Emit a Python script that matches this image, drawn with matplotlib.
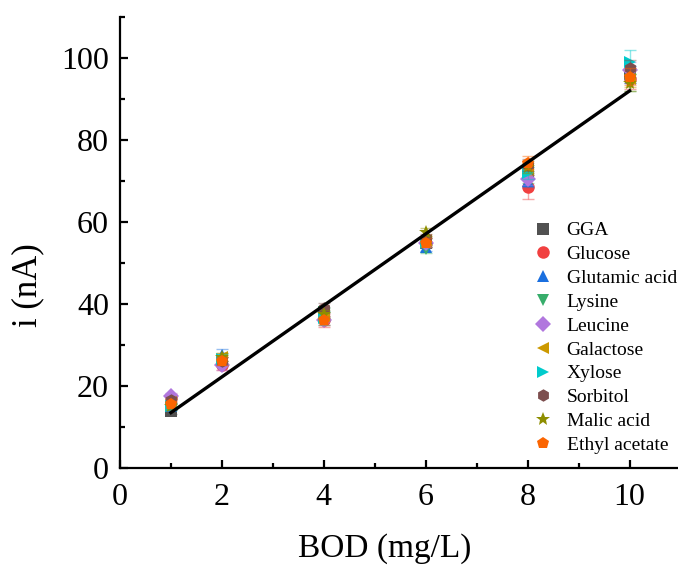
import numpy as np
import matplotlib.pyplot as plt
from matplotlib.ticker import MultipleLocator

plt.rcParams['font.family'] = ['Liberation Serif', 'DejaVu Serif']

# BOD concentrations (mg/L)
bod = [1, 2, 4, 6, 8, 10]

# current response (nA) for each substrate
names = ['GGA', 'Glucose', 'Glutamic acid', 'Lysine', 'Leucine',
         'Galactose', 'Xylose', 'Sorbitol', 'Malic acid', 'Ethyl acetate']
gga = [14.0, 26.0, 38.0, 55.0, 72.0, 96.0]
glucose = [17.0, 25.0, 36.0, 55.0, 68.5, 95.0]
glutamic = [15.0, 27.5, 37.0, 54.0, 70.0, 96.0]
lysine = [16.0, 26.0, 38.0, 53.5, 71.0, 94.0]
leucine = [17.5, 25.0, 36.0, 55.0, 70.5, 97.0]
galactose = [16.0, 27.0, 37.0, 55.5, 73.0, 95.0]
xylose = [15.0, 26.5, 36.5, 55.0, 72.0, 99.0]
sorbitol = [16.5, 26.0, 39.0, 56.0, 74.0, 97.5]
malic = [15.0, 27.0, 37.5, 57.5, 73.5, 94.0]
ethyl = [15.5, 26.0, 36.0, 55.0, 74.5, 95.5]
series = [gga, glucose, glutamic, lysine, leucine,
          galactose, xylose, sorbitol, malic, ethyl]

# error bar half-widths (nA)
err_gga = [0.8, 1.0, 1.2, 1.0, 1.5, 2.0]
err_glucose = [1.0, 1.2, 1.5, 1.2, 3.0, 2.5]
err_glutamic = [0.8, 1.5, 1.2, 1.0, 1.5, 2.0]
err_lysine = [0.8, 1.0, 1.0, 1.0, 1.5, 2.0]
err_leucine = [0.8, 1.0, 1.0, 1.0, 1.5, 2.0]
err_galactose = [0.8, 1.0, 1.0, 1.0, 1.5, 2.0]
err_xylose = [0.8, 1.2, 1.5, 1.0, 1.5, 3.0]
err_sorbitol = [0.8, 1.0, 1.2, 1.0, 1.5, 2.0]
err_malic = [0.8, 1.0, 1.0, 1.0, 1.5, 2.0]
err_ethyl = [0.8, 1.0, 1.0, 1.0, 1.5, 2.0]
errors = [err_gga, err_glucose, err_glutamic, err_lysine, err_leucine,
          err_galactose, err_xylose, err_sorbitol, err_malic, err_ethyl]

# linear fit line end points
fit_x = [1, 10]
fit_y = [13.5, 92.0]

colors = ['#515151', '#F14040', '#1A6FDF', '#37AD6B', '#B177DE',
          '#CC9900', '#00CBCC', '#7D4E4E', '#8E8E00', '#FB6501']
markers = ['s', 'o', '^', 'v', 'D', '<', '>', 'h', '*', 'p']
sizes = [8, 9, 9, 9, 8, 9, 9, 9, 10.5, 9]

fig = plt.figure(figsize=(6.78, 5.70), dpi=100)
ax = fig.add_axes([0.177, 0.179, 0.823, 0.791])

for name, y, e, c, m, s in zip(names, series, errors, colors, markers, sizes):
    ax.errorbar(bod, y, yerr=e, fmt='none', ecolor=c, alpha=0.45,
                elinewidth=1.0, capsize=4, capthick=1.0)
    ax.plot(bod, y, linestyle='none', marker=m, color=c, markersize=s,
            markeredgewidth=0, label=name)

ax.plot(fit_x, fit_y, color='black', linewidth=2.4, zorder=5)

ax.set_xlim(0, 10.95)
ax.set_ylim(0, 110)
ax.xaxis.set_major_locator(MultipleLocator(2))
ax.xaxis.set_minor_locator(MultipleLocator(1))
ax.yaxis.set_major_locator(MultipleLocator(20))
ax.yaxis.set_minor_locator(MultipleLocator(10))

for side in ['top', 'right']:
    ax.spines[side].set_visible(False)
for side in ['left', 'bottom']:
    ax.spines[side].set_linewidth(1.6)

ax.tick_params(which='major', direction='in', length=6, width=1.6,
               labelsize=23)
ax.tick_params(axis='x', which='major', pad=11)
ax.tick_params(axis='y', which='major', pad=8)
ax.tick_params(which='minor', direction='in', length=3.5, width=1.6)

ax.set_xlabel('BOD (mg/L)', fontsize=24)
ax.set_ylabel('i (nA)', fontsize=25)
ax.xaxis.set_label_coords(0.475, -0.145)
ax.yaxis.set_label_coords(-0.135, 0.405)

ax.legend(loc='lower right', bbox_to_anchor=(1.012, 0.014), frameon=False,
          fontsize=14, handletextpad=0.5, labelspacing=0.32,
          borderaxespad=0.0, handlelength=1.4)

fig.savefig('out.png', dpi=100)
